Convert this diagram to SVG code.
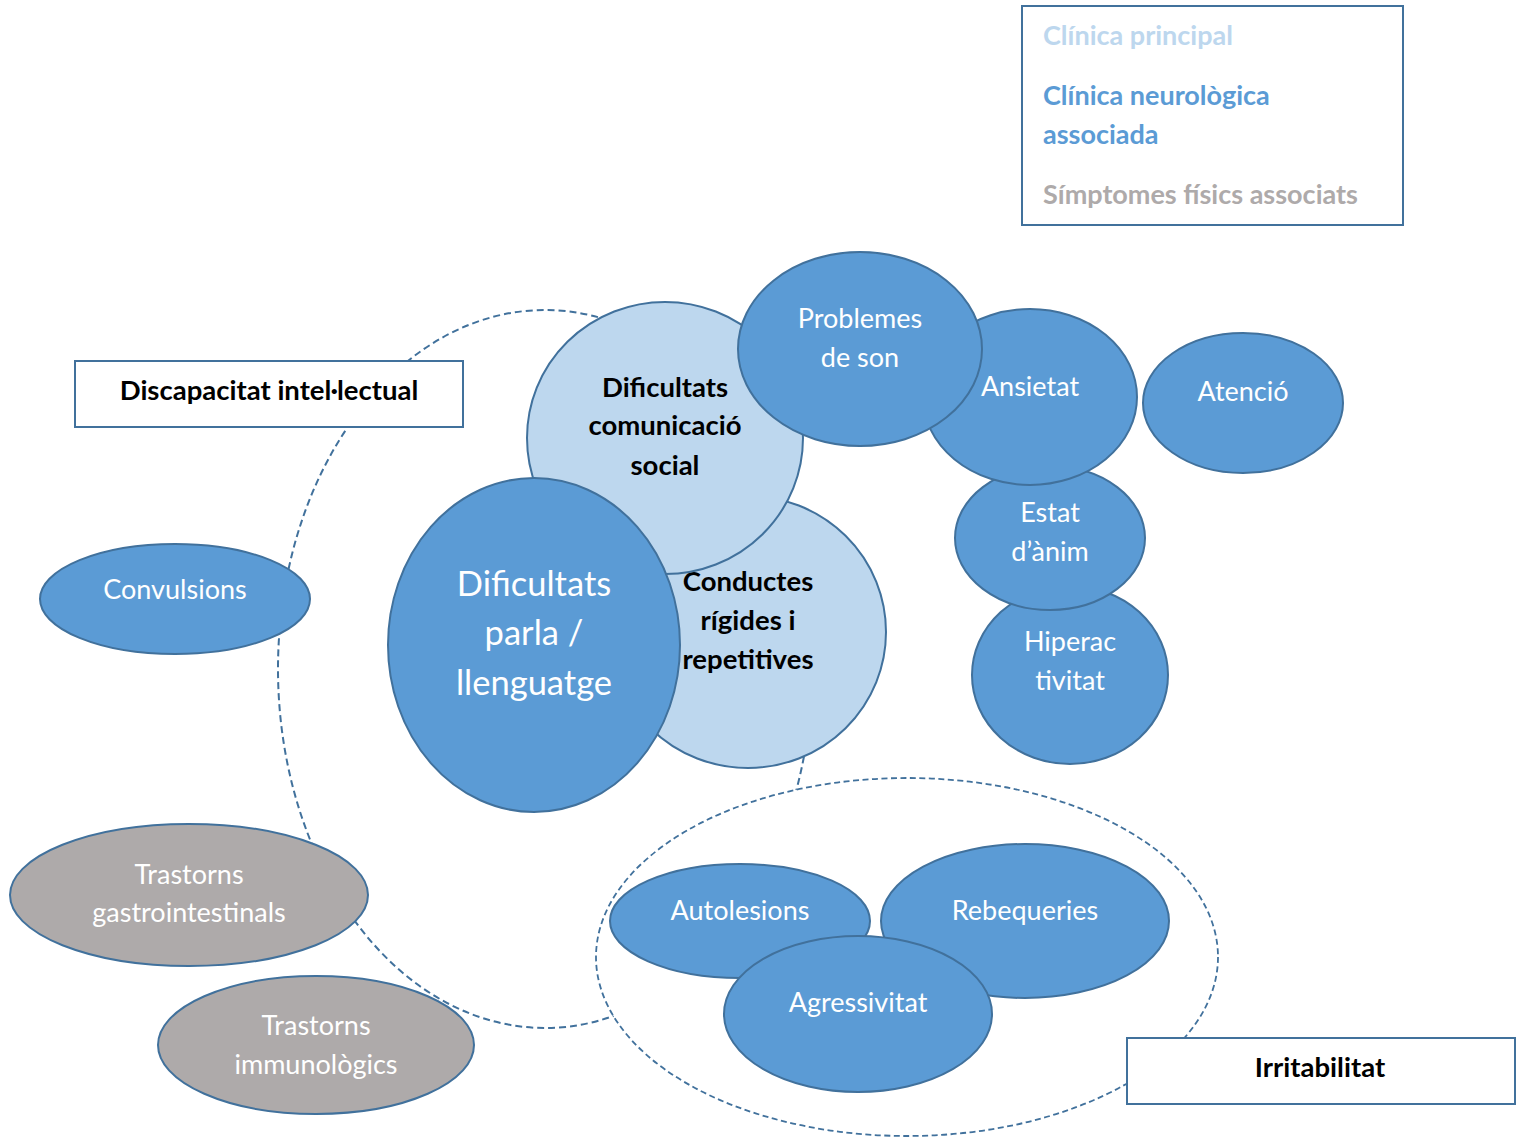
<svg xmlns="http://www.w3.org/2000/svg" width="1519" height="1137" viewBox="0 0 1519 1137">
<style>
.n{fill:#5B9BD5;stroke:#41719C;stroke-width:2}
.l{fill:#BDD7EE;stroke:#41719C;stroke-width:2}
.g{fill:#AEAAAA;stroke:#41719C;stroke-width:2}
.box{fill:#fff;stroke:#41719C;stroke-width:2}
.dash{fill:#fff;stroke:#41719C;stroke-width:2;stroke-dasharray:7 4}
.dash2{fill:#fff;stroke:#41719C;stroke-width:1.8;stroke-dasharray:6 3.5}
text{font-family:Lato,"Open Sans","Liberation Sans",sans-serif;text-anchor:middle}
.w{fill:#fff;font-size:27px}
.b{fill:#000;font-size:27.5px;font-weight:bold}
.lg{font-size:27px;font-weight:bold;text-anchor:start}
</style>
<rect width="1519" height="1137" fill="#fff"/>
<g id="groupings">
<ellipse class="dash" cx="545" cy="669" rx="267" ry="359"/>
<ellipse class="dash2" cx="907" cy="957" rx="311" ry="179"/>
</g>
<g id="connectors"></g>
<g id="legend">
<rect class="box" x="1022" y="6" width="381" height="219"/>
<text class="lg" x="1043" y="45" fill="#BDD7EE">Clínica principal</text>
<text class="lg" x="1043" y="105" fill="#5B9BD5">Clínica neurològica</text>
<text class="lg" x="1043" y="144" fill="#5B9BD5">associada</text>
<text class="lg" x="1043" y="204" fill="#AEAAAA">Símptomes físics associats</text>
</g>
<g id="discapacitat-label">
<rect class="box" x="75" y="361" width="388" height="66"/>
<text class="b" x="269" y="400">Discapacitat intel·lectual</text>
</g>
<g id="irritabilitat-label">
<rect class="box" x="1127" y="1038" width="388" height="66"/>
<text class="b" x="1320" y="1077">Irritabilitat</text>
</g>
<g id="convulsions">
<ellipse class="n" cx="175" cy="599" rx="135" ry="55"/>
<text class="w" x="175" y="599">Convulsions</text>
</g>
<g id="gastro">
<ellipse class="g" cx="189" cy="895" rx="179" ry="71"/>
<text class="w" x="189" y="884">Trastorns</text>
<text class="w" x="189" y="922">gastrointestinals</text>
</g>
<g id="immuno">
<ellipse class="g" cx="316" cy="1045" rx="158" ry="69"/>
<text class="w" x="316" y="1035">Trastorns</text>
<text class="w" x="316" y="1074">immunològics</text>
</g>
<g id="conductes">
<ellipse class="l" cx="748" cy="632" rx="138" ry="136"/>
<text class="b" x="748" y="591">Conductes</text>
<text class="b" x="748" y="630">rígides i</text>
<text class="b" x="748" y="669">repetitives</text>
</g>
<g id="comunicacio">
<ellipse class="l" cx="665" cy="438" rx="138" ry="136"/>
<text class="b" x="665" y="397">Dificultats</text>
<text class="b" x="665" y="435">comunicació</text>
<text class="b" x="665" y="475">social</text>
</g>
<g id="parla">
<ellipse class="n" cx="534" cy="645" rx="146" ry="167"/>
<text class="w" x="534" y="596" style="font-size:34.5px">Dificultats</text>
<text class="w" x="534" y="645" style="font-size:34.5px">parla /</text>
<text class="w" x="534" y="695" style="font-size:34.5px">llenguatge</text>
</g>
<g id="hiperactivitat">
<ellipse class="n" cx="1070" cy="675" rx="98" ry="89"/>
<text class="w" x="1070" y="651">Hiperac</text>
<text class="w" x="1070" y="690">tivitat</text>
</g>
<g id="estat">
<ellipse class="n" cx="1050" cy="538" rx="95" ry="72"/>
<text class="w" x="1050" y="522">Estat</text>
<text class="w" x="1050" y="561">d’ànim</text>
</g>
<g id="ansietat">
<ellipse class="n" cx="1030" cy="397" rx="107" ry="88"/>
<text class="w" x="1030" y="396">Ansietat</text>
</g>
<g id="son">
<ellipse class="n" cx="860" cy="349" rx="122" ry="97"/>
<text class="w" x="860" y="328">Problemes</text>
<text class="w" x="860" y="367">de son</text>
</g>
<g id="atencio">
<ellipse class="n" cx="1243" cy="403" rx="100" ry="70"/>
<text class="w" x="1243" y="401">Atenció</text>
</g>
<g id="autolesions">
<ellipse class="n" cx="740" cy="921" rx="130" ry="57"/>
<text class="w" x="740" y="920">Autolesions</text>
</g>
<g id="rebequeries">
<ellipse class="n" cx="1025" cy="921" rx="144" ry="77"/>
<text class="w" x="1025" y="920">Rebequeries</text>
</g>
<g id="agressivitat">
<ellipse class="n" cx="858" cy="1014" rx="134" ry="78"/>
<text class="w" x="858" y="1012">Agressivitat</text>
</g>
</svg>
